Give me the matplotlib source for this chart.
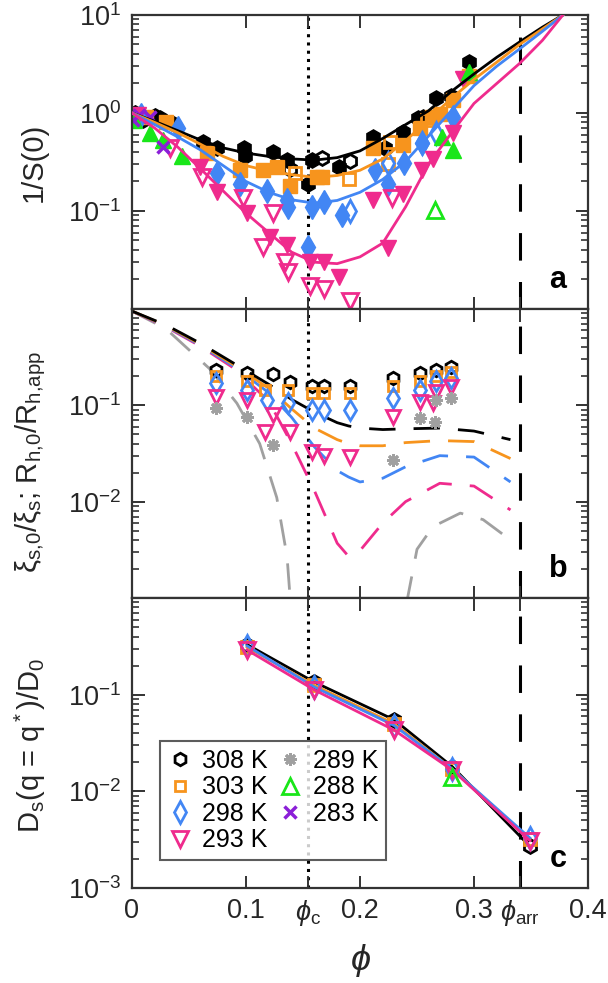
import numpy as np
import matplotlib
matplotlib.use('Agg')
import matplotlib.pyplot as plt
from matplotlib.lines import Line2D
from matplotlib.ticker import FixedLocator, LogLocator, NullFormatter

plt.rcParams['font.family'] = ['Liberation Sans', 'DejaVu Sans']
plt.rcParams['mathtext.fontset'] = 'custom'
plt.rcParams['mathtext.rm'] = 'Liberation Sans'
plt.rcParams['mathtext.it'] = 'Liberation Sans:italic'
plt.rcParams['mathtext.bf'] = 'Liberation Sans:bold'

# colours per temperature
c308, c303, c298, c293 = 'black', '#F7941D', '#4286F4', '#EF2B8D'
c289, c288, c283 = '#A0A0A0', '#19E619', '#8B1FD8'

phi_c = 0.154
phi_arr = 0.34

# ---------------- panel a : 1/S(0) ----------------
a308_phi = [0.010, 0.025, 0.035, 0.062, 0.075, 0.098, 0.099, 0.124, 0.136, 0.158, 0.154, 0.182,
            0.211, 0.222, 0.238, 0.251, 0.255, 0.267, 0.280, 0.296]
a308_S = [0.85, 0.89, 0.79, 0.50, 0.44, 0.44, 0.36, 0.40, 0.33, 0.33, 0.19, 0.28,
          0.57, 0.44, 0.64, 0.89, 0.91, 1.41, 1.50, 3.3]
a308o_phi = [0.003, 0.020, 0.139, 0.167, 0.191]
a308o_S = [1.0, 0.92, 0.27, 0.35, 0.32]

a303_phi = [0.012, 0.030, 0.066, 0.095, 0.115, 0.127, 0.139, 0.162, 0.167, 0.211, 0.238,
            0.253, 0.263, 0.270, 0.282, 0.296]
a303_S = [0.90, 0.80, 0.39, 0.26, 0.26, 0.28, 0.18, 0.22, 0.22, 0.44, 0.47,
          0.71, 0.91, 0.97, 1.35, 2.4]
a303o_phi = [0.143, 0.190, 0.225, 0.226, 0.259]
a303o_S = [0.245, 0.21, 0.30, 0.50, 0.85]

a298_phi = [0.008, 0.040, 0.075, 0.095, 0.118, 0.136, 0.137, 0.158, 0.168, 0.184, 0.154,
            0.213, 0.225, 0.239, 0.254, 0.282]
a298_S = [0.95, 0.70, 0.245, 0.19, 0.16, 0.13, 0.11, 0.11, 0.123, 0.091, 0.043,
          0.26, 0.19, 0.31, 0.49, 0.91]
a298o_phi = [0.191, 0.225, 0.254, 0.267]
a298o_S = [0.10, 0.31, 0.49, 0.63]

a293_phi = [0.005, 0.060, 0.075, 0.101, 0.121, 0.136, 0.156, 0.168, 0.182, 0.211, 0.225,
            0.238, 0.254, 0.264, 0.282, 0.290]
a293_S = [0.95, 0.28, 0.155, 0.095, 0.054, 0.045, 0.030, 0.030, 0.021, 0.13, 0.042,
          0.15, 0.26, 0.34, 0.63, 2.2]
a293o_phi = [0.033, 0.061, 0.097, 0.115, 0.124, 0.134, 0.137, 0.156, 0.168, 0.191, 0.228]
a293o_S = [0.44, 0.22, 0.135, 0.043, 0.095, 0.030, 0.024, 0.017, 0.016, 0.012, 0.135]

a288_phi = [0.002, 0.016, 0.027, 0.044, 0.272, 0.282, 0.296]
a288_S = [0.85, 0.63, 0.53, 0.36, 0.57, 0.42, 2.6]
a288o_phi = [0.266]
a288o_S = [0.102]

a283_phi = [0.001, 0.006, 0.016, 0.027]
a283_S = [0.85, 0.95, 0.90, 0.45]

fit_phi = [0, 0.02, 0.04, 0.06, 0.08, 0.10, 0.12, 0.14, 0.16, 0.18, 0.20,
           0.22, 0.24, 0.26, 0.28, 0.30, 0.32, 0.34, 0.36, 0.378]
fit308 = [1.0, 0.82, 0.66, 0.53, 0.44, 0.39, 0.36, 0.34, 0.33, 0.35, 0.41,
          0.55, 0.76, 1.05, 1.65, 2.5, 3.7, 5.3, 7.5, 10]
fit303 = [1.0, 0.80, 0.63, 0.48, 0.36, 0.29, 0.255, 0.235, 0.22, 0.23, 0.26,
          0.34, 0.52, 0.85, 1.4, 2.2, 3.3, 5.0, 7.2, 10]
fit298 = [1.0, 0.76, 0.57, 0.42, 0.29, 0.20, 0.155, 0.13, 0.12, 0.128, 0.155,
          0.21, 0.32, 0.58, 1.05, 1.9, 3.0, 4.5, 6.8, 10]
fit293 = [1.0, 0.70, 0.45, 0.27, 0.16, 0.095, 0.06, 0.038, 0.030, 0.029, 0.034,
          0.047, 0.11, 0.30, 0.62, 1.25, 2.0, 3.2, 5.5, 10]

# ---------------- panel b : xi ratio ----------------
b_phi = [0, 0.03, 0.06, 0.09, 0.12, 0.14, 0.16, 0.18, 0.19, 0.20, 0.22, 0.24, 0.27, 0.30, 0.332]
b308 = [0.95, 0.68, 0.44, 0.27, 0.165, 0.115, 0.085, 0.066, 0.061, 0.058, 0.056, 0.057, 0.058, 0.054, 0.044]
b303 = [0.95, 0.67, 0.43, 0.26, 0.15, 0.092, 0.058, 0.044, 0.040, 0.038, 0.038, 0.041, 0.043, 0.042, 0.028]
b298 = [0.95, 0.66, 0.42, 0.25, 0.135, 0.075, 0.037, 0.021, 0.018, 0.016, 0.0175, 0.023, 0.030, 0.029, 0.016]
b293 = [0.95, 0.65, 0.41, 0.24, 0.11, 0.040, 0.013, 0.0037, 0.0027, 0.0031, 0.006, 0.010, 0.0155, 0.0145, 0.0082]
b289L_phi = [0, 0.03, 0.068, 0.092, 0.112, 0.127, 0.136, 0.139]
b289L = [0.95, 0.62, 0.24, 0.105, 0.04, 0.011, 0.0027, 0.0009]
b289R_phi = [0.241, 0.25, 0.264, 0.288, 0.308, 0.332]
b289R = [0.0009, 0.0032, 0.0055, 0.0076, 0.0065, 0.004]

bp308_phi = [0.074, 0.101, 0.124, 0.139, 0.158, 0.168, 0.191, 0.229, 0.253, 0.267, 0.280]
bp308 = [0.23, 0.215, 0.21, 0.175, 0.16, 0.16, 0.16, 0.19, 0.215, 0.23, 0.25]
bp303_phi = [0.074, 0.101, 0.117, 0.137, 0.158, 0.168, 0.191, 0.229, 0.253, 0.267, 0.280]
bp303 = [0.20, 0.18, 0.145, 0.145, 0.133, 0.133, 0.133, 0.16, 0.18, 0.20, 0.22]
bp298_phi = [0.074, 0.101, 0.118, 0.137, 0.158, 0.168, 0.191, 0.229, 0.253, 0.267, 0.280]
bp298 = [0.17, 0.145, 0.114, 0.105, 0.089, 0.089, 0.089, 0.12, 0.145, 0.18, 0.19]
bp293_phi = [0.074, 0.101, 0.117, 0.124, 0.139, 0.158, 0.168, 0.191, 0.229, 0.253, 0.264, 0.267, 0.280]
bp293 = [0.122, 0.114, 0.053, 0.079, 0.053, 0.033, 0.030, 0.029, 0.076, 0.109, 0.105, 0.137, 0.155]
bp289_phi = [0.074, 0.101, 0.124, 0.229, 0.253, 0.266, 0.267, 0.280]
bp289 = [0.094, 0.076, 0.039, 0.027, 0.074, 0.067, 0.114, 0.12]

# ---------------- panel c : Ds(q*)/D0 ----------------
c_phi = [0.101, 0.160, 0.230, 0.281, 0.349]
c308_D = [0.33, 0.135, 0.055, 0.018, 0.0027]
c303_D = [0.31, 0.125, 0.050, 0.017, 0.0032]
c298_D = [0.32, 0.120, 0.048, 0.017, 0.0033]
c293_D = [0.29, 0.112, 0.043, 0.0166, 0.0031]
c288_phi = [0.281]
c288_D = [0.014]

xticks = [0, 0.1, phi_c, 0.2, 0.3, phi_arr, 0.4]
xticklabels = ['0', '0.1', r'$\phi_{\rm c}$', '0.2', '0.3', r'$\phi_{\rm arr}$', '0.4']

fig = plt.figure(figsize=(6.08, 9.83), dpi=100)
axA = fig.add_axes([0.2171, 0.6857, 0.75, 0.2991])
axB = fig.add_axes([0.2171, 0.3917, 0.75, 0.2940])
axC = fig.add_axes([0.2171, 0.0966, 0.75, 0.2950])

spine_col = '#333333'
for ax, ylim, yt, ylab in [(axA, (1e-2, 1e1), [1e-2, 1e-1, 1e0, 1e1], ['', r'$10^{-1}$', r'$10^{0}$', r'$10^{1}$']),
                           (axB, (1e-3, 1e0), [1e-3, 1e-2, 1e-1, 1e0], ['', r'$10^{-2}$', r'$10^{-1}$', '']),
                           (axC, (1e-3, 1e0), [1e-3, 1e-2, 1e-1, 1e0], [r'$10^{-3}$', r'$10^{-2}$', r'$10^{-1}$', ''])]:
    ax.set_yscale('log')
    ax.set_xlim(0, 0.4)
    ax.set_ylim(*ylim)
    ax.yaxis.set_major_locator(FixedLocator(yt))
    ax.set_yticklabels(ylab)
    ax.yaxis.set_minor_locator(LogLocator(subs=np.arange(2, 10)))
    ax.yaxis.set_minor_formatter(NullFormatter())
    ax.set_xticks(xticks)
    ax.tick_params(which='both', direction='in', top=True, right=True, colors=spine_col,
                   labelcolor='#262626', labelsize=19.5)
    ax.tick_params(which='major', length=9, width=1.4)
    ax.tick_params(which='minor', length=5, width=1.2)
    ax.tick_params(axis='y', pad=8)
    for s in ax.spines.values():
        s.set_color(spine_col)
        s.set_linewidth(1.6)
    ax.axvline(phi_c, color='black', lw=2.2, ls=(0, (1, 1.7)), zorder=1)
    ax.axvline(phi_arr, color='black', lw=2.2, ls=(0, (9, 7)), zorder=1)

axA.set_xticklabels([])
axB.set_xticklabels([])
axC.set_xticklabels(xticklabels)
axC.tick_params(axis='x', pad=7)

# panel a
ms_f = 11
axA.plot(a308_phi, a308_S, 'h', color=c308, ms=ms_f, ls='none')
axA.plot(a308o_phi, a308o_S, 'h', mfc='none', mec=c308, mew=2, ms=ms_f - 1, ls='none')
axA.plot(a303_phi, a303_S, 's', color=c303, ms=ms_f - 1, ls='none')
axA.plot(a303o_phi, a303o_S, 's', mfc='none', mec=c303, mew=2, ms=ms_f - 2, ls='none')
axA.plot(a298_phi, a298_S, 'd', color=c298, ms=ms_f + 1, ls='none')
axA.plot(a298o_phi, a298o_S, 'd', mfc='none', mec=c298, mew=2, ms=ms_f, ls='none')
axA.plot(a293_phi, a293_S, 'v', color=c293, ms=ms_f + 1, ls='none')
axA.plot(a293o_phi, a293o_S, 'v', mfc='none', mec=c293, mew=2, ms=ms_f, ls='none')
axA.plot(a288_phi, a288_S, '^', color=c288, ms=ms_f + 1, ls='none')
axA.plot(a288o_phi, a288o_S, '^', mfc='none', mec=c288, mew=2, ms=ms_f, ls='none')
axA.plot(a283_phi, a283_S, 'x', color=c283, ms=ms_f - 2, mew=2.5, ls='none')
axA.plot(fit_phi, fit308, color=c308, lw=2, zorder=4)
axA.plot(fit_phi, fit303, color=c303, lw=2, zorder=4)
axA.plot(fit_phi, fit298, color=c298, lw=2, zorder=4)
axA.plot(fit_phi, fit293, color=c293, lw=2, zorder=4)
axA.set_ylabel('1/S(0)', fontsize=21, color='#262626')
axA.yaxis.set_label_coords(-0.185, 0.5)

# panel b
dash = (0, (9.5, 6.5))
axB.plot(b289L_phi, b289L, color=c289, lw=2, ls=dash)
axB.plot(b289R_phi, b289R, color=c289, lw=2, ls=dash)
axB.plot(b_phi, b293, color=c293, lw=2, ls=dash)
axB.plot(b_phi, b298, color=c298, lw=2, ls=dash)
axB.plot(b_phi, b303, color=c303, lw=2, ls=dash)
axB.plot(b_phi, b308, color=c308, lw=2, ls=dash)
ms_b = 9
axB.plot(bp308_phi, bp308, 'h', mfc='none', mec=c308, mew=2, ms=ms_b, ls='none')
axB.plot(bp303_phi, bp303, 's', mfc='none', mec=c303, mew=2, ms=ms_b - 2, ls='none')
axB.plot(bp298_phi, bp298, 'd', mfc='none', mec=c298, mew=2, ms=ms_b + 1, ls='none')
axB.plot(bp293_phi, bp293, 'v', mfc='none', mec=c293, mew=2, ms=ms_b + 1, ls='none')
axB.plot(bp289_phi, bp289, marker=(8, 2, 0), color=c289, mec=c289, mew=2, ms=ms_b, ls='none')
axB.set_ylabel('ξ$_{\\rm s{,}0}$/ξ$_{\\rm s}$; R$_{\\rm h{,}0}$/R$_{\\rm h{,}app}$', fontsize=21, color='#262626')
axB.yaxis.set_label_coords(-0.185, 0.47)

# panel c
ms_c = 10
axC.plot(c_phi, c308_D, 'h-', color=c308, mfc='none', mew=2, lw=2, ms=ms_c)
axC.plot(c_phi, c303_D, 's-', color=c303, mfc='none', mew=2, lw=2, ms=ms_c - 2)
axC.plot(c_phi, c298_D, 'd-', color=c298, mfc='none', mew=2, lw=2, ms=ms_c + 1)
axC.plot(c_phi, c293_D, 'v-', color=c293, mfc='none', mew=2, lw=2, ms=ms_c + 1)
axC.plot(c288_phi, c288_D, '^', color=c288, mfc='none', mew=2, ms=ms_c + 1)
axC.set_ylabel(r'D$_{\rm s}$(q = q$^{\rm *}$)/D$_{\rm 0}$', fontsize=21, color='#262626')
axC.yaxis.set_label_coords(-0.185, 0.49)
axC.set_xlabel(r'$\phi$', fontsize=26, color='#262626', labelpad=10)

handles = [
    Line2D([], [], marker='h', ls='none', mfc='none', mec=c308, mew=2, ms=9),
    Line2D([], [], marker='s', ls='none', mfc='none', mec=c303, mew=2, ms=7),
    Line2D([], [], marker='d', ls='none', mfc='none', mec=c298, mew=2, ms=11),
    Line2D([], [], marker='v', ls='none', mfc='none', mec=c293, mew=2, ms=11),
    Line2D([], [], marker=(8, 2, 0), ls='none', color=c289, mew=2, ms=9),
    Line2D([], [], marker='^', ls='none', mfc='none', mec=c288, mew=2, ms=11),
    Line2D([], [], marker='x', ls='none', color=c283, mew=2.5, ms=8),
]
labels = ['308 K', '303 K', '298 K', '293 K', '289 K', '288 K', '283 K']
leg = axC.legend(handles, labels, ncol=2, loc='lower left', bbox_to_anchor=(0.061, 0.097),
                 borderaxespad=0, fontsize=18, frameon=True, fancybox=False, edgecolor=spine_col,
                 handlelength=1.0, handletextpad=0.4, columnspacing=0.4, labelspacing=0.1,
                 borderpad=0.3)
leg.get_frame().set_linewidth(1.5)

for ax, lab in [(axA, 'a'), (axB, 'b'), (axC, 'c')]:
    ax.text(0.934, 0.10, lab, transform=ax.transAxes, fontsize=22, fontweight='bold',
            ha='center', va='center', color='black')

fig.savefig('out.png', dpi=100)
